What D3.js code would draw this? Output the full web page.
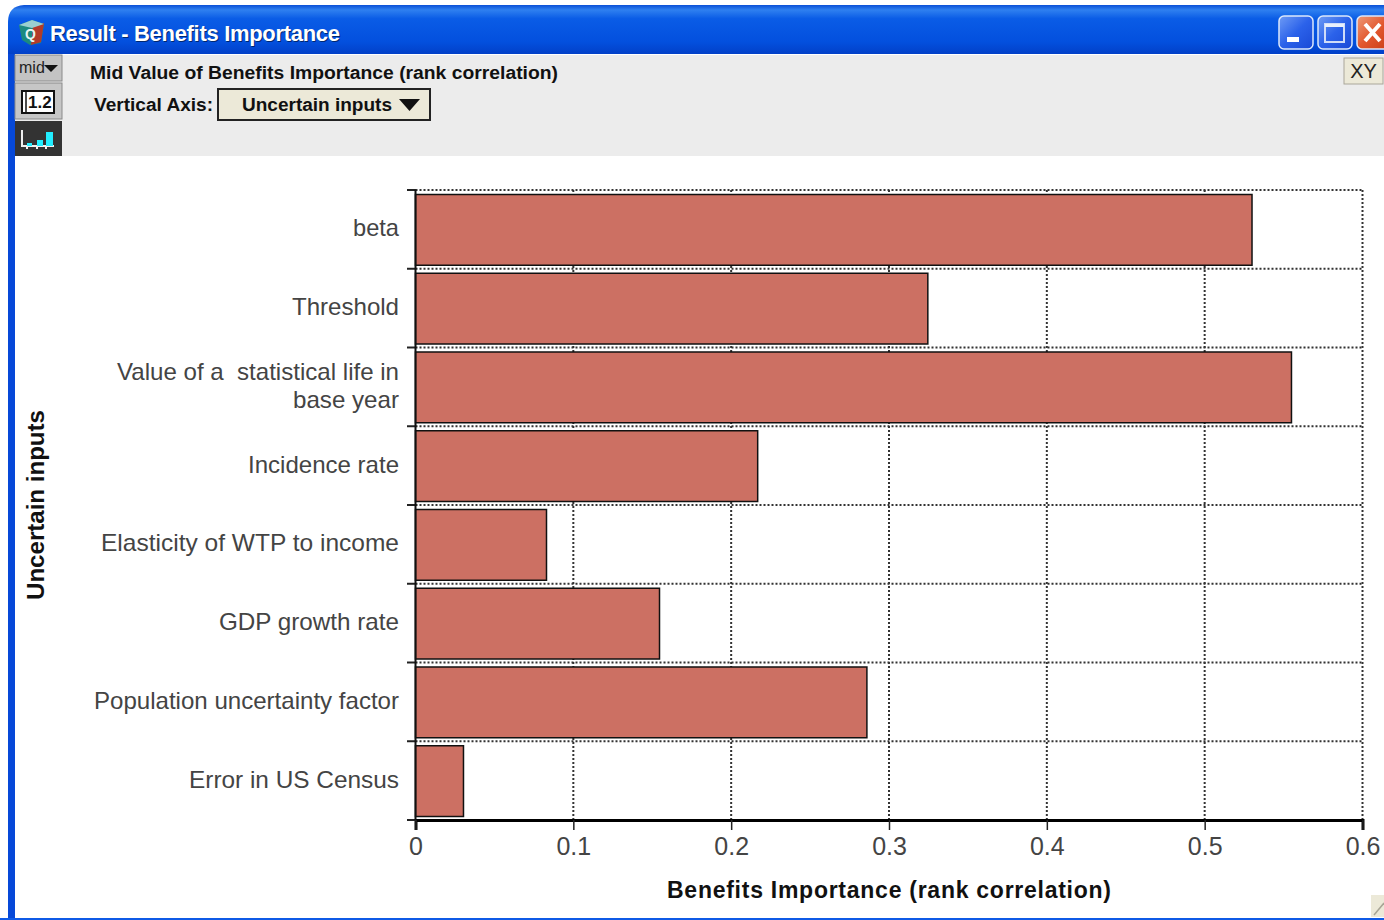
<!DOCTYPE html>
<html><head><meta charset="utf-8">
<script src="https://cdn.jsdelivr.net/npm/d3@7"></script>
<style>html,body{margin:0;padding:0;background:#fff;overflow:hidden}svg{display:block}text{font-family:"Liberation Sans",Arial,sans-serif;white-space:pre}</style>
</head><body><svg id="c" width="1384" height="920"></svg>
<script>
const categories=["beta","Threshold",["Value of a  statistical life in","base year"],"Incidence rate","Elasticity of WTP to income","GDP growth rate","Population uncertainty factor","Error in US Census"];
const categoryIds=d3.range(categories.length);
const values=[0.530,0.3246,0.555,0.2168,0.083,0.1546,0.286,0.0304];
const xTicks=[0,0.1,0.2,0.3,0.4,0.5,0.6];
const windowTitle="Result - Benefits Importance";
const chartTitle="Mid Value of Benefits Importance (rank correlation)";
const axisLabel="Vertical Axis:";
const axisChoice="Uncertain inputs";
const xTitle="Benefits Importance (rank correlation)";
const yTitle="Uncertain inputs";

const svg=d3.select("#c");
const defs=svg.append("defs");
const g1=defs.append("linearGradient").attr("id","tb").attr("x1",0).attr("x2",0).attr("y1",0).attr("y2",1);
[[0,"#0a4fd6"],[.1,"#2f80f0"],[.28,"#0a5ce6"],[.75,"#0350de"],[1,"#0240c8"]].forEach(s=>g1.append("stop").attr("offset",s[0]).attr("stop-color",s[1]));
const g2=defs.append("linearGradient").attr("id","btn").attr("x1",0).attr("x2",1).attr("y1",0).attr("y2",1);
[[0,"#6f9cf5"],[.5,"#2b62ea"],[1,"#1a49d6"]].forEach(s=>g2.append("stop").attr("offset",s[0]).attr("stop-color",s[1]));
const g3=defs.append("linearGradient").attr("id","cls").attr("x1",0).attr("x2",1).attr("y1",0).attr("y2",1);
[[0,"#ee9a78"],[.5,"#e2572e"],[1,"#c93c16"]].forEach(s=>g3.append("stop").attr("offset",s[0]).attr("stop-color",s[1]));

// window chrome
svg.append("path").attr("d","M8 54V22Q8 6 24 5H1384V54Z").attr("fill","url(#tb)");
svg.append("rect").attr("x",8).attr("y",54).attr("width",7).attr("height",866).attr("fill","#0648d8");
svg.append("rect").attr("x",15).attr("y",55).attr("width",1369).attr("height",101).attr("fill","#ececec");
svg.append("rect").attr("x",0).attr("y",918).attr("width",1384).attr("height",2).attr("fill","#0f5ae6");
// title icon
svg.append("path").attr("d","M19 25L32 20L44 24L41 43L30 45L22 40Z").attr("fill","#1c8a80");
svg.append("path").attr("d","M33 27L44 23L41 42L31 45Z").attr("fill","#b33a2a");
svg.append("path").attr("d","M19 25L32 20L44 24L32 28Z").attr("fill","#9ad0d0");
svg.append("text").attr("x",25).attr("y",39).attr("font-size",14).attr("font-weight",700).attr("fill","#e8f4f4").text("Q");
svg.append("text").attr("x",51).attr("y",42).attr("fill","#000").attr("opacity",.5).attr("font-size",22).attr("font-weight",700).attr("textLength",290).attr("lengthAdjust","spacing").text(windowTitle);
svg.append("text").attr("x",50).attr("y",41).attr("fill","#fff").attr("font-size",22).attr("font-weight",700).attr("textLength",290).attr("lengthAdjust","spacing").text(windowTitle);
// window buttons
[[1279,"url(#btn)"],[1318,"url(#btn)"],[1357,"url(#cls)"]].forEach(b=>svg.append("rect").attr("x",b[0]).attr("y",16).attr("width",34).attr("height",33).attr("rx",5).attr("fill",b[1]).attr("stroke","#dce8fb").attr("stroke-width",1.5));
svg.append("rect").attr("x",1287).attr("y",37).attr("width",12).attr("height",5).attr("fill","#fff");
svg.append("rect").attr("x",1325).attr("y",24).attr("width",19).attr("height",18).attr("fill","none").attr("stroke","#cfdcf8").attr("stroke-width",2);
svg.append("rect").attr("x",1325).attr("y",24).attr("width",19).attr("height",3).attr("fill","#e8effc");
svg.append("path").attr("d","M1365 24L1380 41M1380 24L1365 41").attr("stroke","#fff").attr("stroke-width",4);
// left tool buttons
svg.append("rect").attr("x",15).attr("y",55).attr("width",47).attr("height",26).attr("fill","#c3c3c3").attr("stroke","#8a8a8a");
svg.append("text").attr("x",19).attr("y",73).attr("font-size",16).attr("fill","#222").text("mid");
svg.append("path").attr("d","M44 65H58L51 72Z").attr("fill","#111");
svg.append("rect").attr("x",15).attr("y",83).attr("width",47).attr("height",36).attr("fill","#c6c6c6").attr("stroke","#8a8a8a");
svg.append("rect").attr("x",22).attr("y",91).attr("width",32).attr("height",22).attr("fill","#fff").attr("stroke","#111").attr("stroke-width",2);
svg.append("line").attr("x1",26).attr("x2",26).attr("y1",91).attr("y2",113).attr("stroke","#111").attr("stroke-width",1.5);
svg.append("text").attr("x",28).attr("y",108).attr("font-size",17).attr("font-weight",700).attr("fill","#111").text("1.2");
svg.append("rect").attr("x",15).attr("y",121).attr("width",47).attr("height",35).attr("fill","#333");
svg.append("path").attr("d","M22 130V146H54M27 146V149M37 146V149M46 146V149").attr("fill","none").attr("stroke","#eee").attr("stroke-width",2);
[[27,143,5],[37,140,6],[46,132,7]].forEach(b=>svg.append("rect").attr("x",b[0]).attr("y",b[1]).attr("width",b[2]).attr("height",146-b[1]).attr("fill","#22eeff"));
// header text
svg.append("text").attr("x",90).attr("y",79).attr("font-size",18).attr("font-weight",700).attr("fill","#111").attr("textLength",468).attr("lengthAdjust","spacingAndGlyphs").text(chartTitle);
svg.append("text").attr("x",94).attr("y",111).attr("font-size",18).attr("font-weight",700).attr("fill","#111").attr("textLength",119).attr("lengthAdjust","spacingAndGlyphs").text(axisLabel);
svg.append("rect").attr("x",218).attr("y",89).attr("width",212).attr("height",31).attr("fill","#ece9d8").attr("stroke","#222").attr("stroke-width",2);
svg.append("text").attr("x",242).attr("y",111).attr("font-size",18).attr("font-weight",700).attr("fill","#111").attr("textLength",150).attr("lengthAdjust","spacingAndGlyphs").text(axisChoice);
svg.append("path").attr("d","M399 99H420L409.500 111Z").attr("fill","#111");
// XY button
svg.append("rect").attr("x",1344).attr("y",58).attr("width",39).attr("height",26).attr("fill","#ece9d8").attr("stroke","#aaa69a");
svg.append("text").attr("x",1363.500).attr("y",78).attr("text-anchor","middle").attr("font-size",20).attr("fill","#222").text("XY");
svg.append("rect").attr("x",1371).attr("y",895).attr("width",13).attr("height",22).attr("fill","#ece9d8");
svg.append("path").attr("d","M1374 915L1384 903").attr("stroke","#a8a595").attr("stroke-width",1.5);

// chart
const x=d3.scaleLinear().domain([0,0.6]).range([415.5,1362.5]);
const y=d3.scaleBand().domain(categoryIds).range([190,820]);
const chart=svg.append("g");
const applyDot=s=>s.attr("stroke","#333").attr("stroke-width",2).attr("stroke-dasharray","2 2");
chart.append("g").selectAll("line").data(xTicks.slice(1)).join("line").attr("x1",d=>x(d)).attr("x2",d=>x(d)).attr("y1",190).attr("y2",820).call(applyDot);
chart.append("g").selectAll("line").data(categoryIds).join("line").attr("x1",415.5).attr("x2",1362.5).attr("y1",d=>y(d)).attr("y2",d=>y(d)).call(applyDot);
chart.append("g").selectAll("rect").data(values).join("rect")
 .attr("x",x(0)).attr("width",d=>x(d)-x(0))
 .attr("y",(d,i)=>y(i)+4.5).attr("height",y.bandwidth()-8)
 .attr("fill","#cc7063").attr("stroke","#111").attr("stroke-width",1.5);
// axes
const xAxis=chart.append("g").attr("transform","translate(0,820)").call(d3.axisBottom(x).tickValues(xTicks).tickFormat(d=>String(d)).tickSize(10).tickPadding(6));
xAxis.select(".domain").attr("stroke","#000").attr("stroke-width",3);
xAxis.selectAll("line").attr("stroke","#222").attr("stroke-width",1.5);
xAxis.selectAll("text").attr("font-size",25).attr("fill","#444").attr("dy","0.77em");
chart.append("g").selectAll("line").data(categoryIds.concat([8])).join("line").attr("x1",407).attr("x2",416).attr("y1",d=>d<8?y(d):820).attr("y2",d=>d<8?y(d):820).attr("stroke","#222").attr("stroke-width",2);
chart.append("line").attr("x1",415.5).attr("x2",415.5).attr("y1",190).attr("y2",820).attr("stroke","#111").attr("stroke-width",2);
// category labels (rendered line lengths, fitted to the picture)
const labelLengths=[46,107,[282,106],151,298,180,305,210];
const labs=chart.append("g").selectAll("text").data(categories).join("text").attr("font-size",24).attr("fill","#444").attr("text-anchor","end");
labs.each(function(d,i){
  const t=d3.select(this),c=y(i)+y.bandwidth()/2;
  if(Array.isArray(d)){
    d.forEach((s,j)=>t.append("tspan").attr("x",399).attr("y",c+(j?28:0)-7).attr("textLength",labelLengths[i][j]).attr("lengthAdjust","spacingAndGlyphs").text(s));
  } else t.attr("x",399).attr("y",c+7).attr("textLength",labelLengths[i]).attr("lengthAdjust","spacingAndGlyphs").text(d);
});
// titles
chart.append("text").attr("x",889).attr("y",898).attr("text-anchor","middle").attr("font-size",23).attr("font-weight",700).attr("fill","#111").attr("textLength",444).attr("lengthAdjust","spacing").text(xTitle);
chart.append("text").attr("transform","translate(44,505) rotate(-90)").attr("text-anchor","middle").attr("font-size",23).attr("font-weight",700).attr("fill","#111").attr("textLength",190).attr("lengthAdjust","spacingAndGlyphs").text(yTitle);
</script></body></html>
